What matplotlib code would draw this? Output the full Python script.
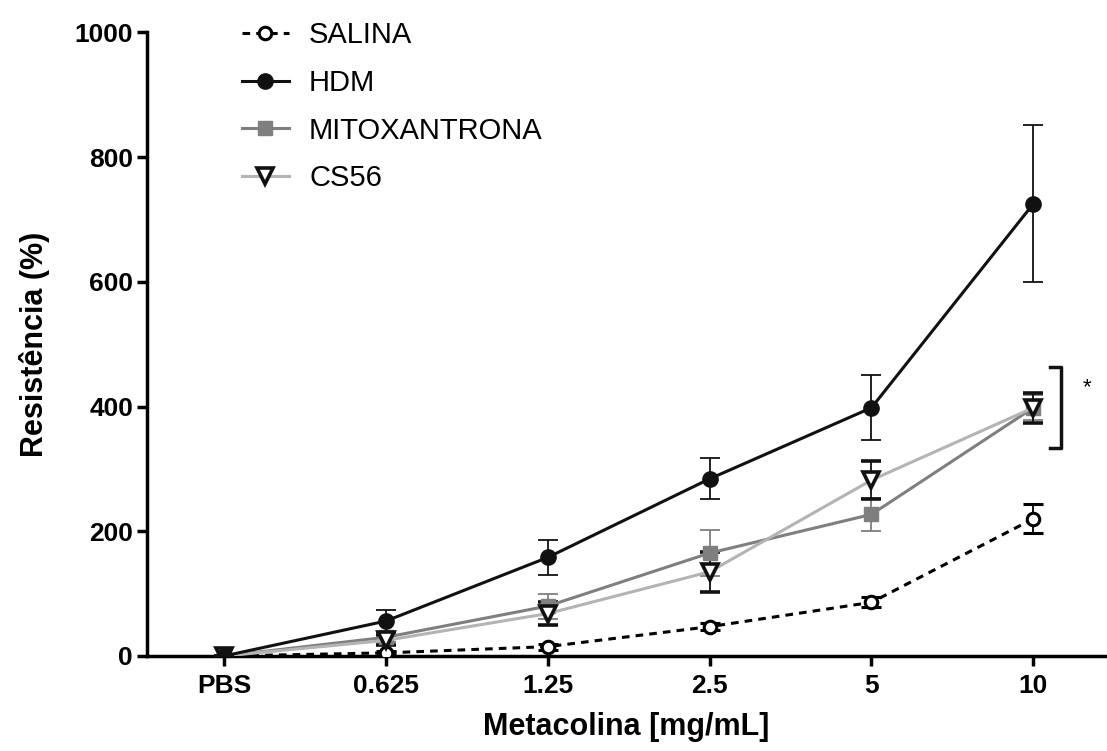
import matplotlib.pyplot as plt
import numpy as np

plt.rcParams['font.family'] = ['Liberation Sans', 'DejaVu Sans']

doses = ['PBS', '0.625', '1.25', '2.5', '5', '10']

salina = [0, 5, 15, 47, 86, 220]
salina_err = [0, 3, 5, 6, 8, 23]
hdm = [0, 56, 158, 284, 398, 725]
hdm_err = [0, 17, 28, 33, 52, 126]
mitox = [0, 30, 80, 165, 227, 398]
mitox_err = [0, 8, 20, 37, 27, 20]
cs56 = [0, 25, 68, 135, 282, 398]
cs56_err = [0, 8, 18, 32, 30, 24]

x = np.arange(len(doses))

fig = plt.figure(figsize=(11.07, 7.51), dpi=100)
ax = fig.add_axes([0.1328, 0.1265, 0.865, 0.8305])

lw = 2.2
ax.errorbar(x, salina, yerr=salina_err, color='black', ls=(0, (2.5, 2)), lw=lw,
            marker='o', ms=9, mfc='white', mec='black', mew=2.2,
            ecolor='black', elinewidth=1.3, capsize=7, capthick=1.3,
            label='SALINA', zorder=3)
ax.errorbar(x, hdm, yerr=hdm_err, color='#111111', lw=lw,
            marker='o', ms=11, mfc='#111111', mec='#111111',
            ecolor='#111111', elinewidth=1.3, capsize=7, capthick=1.3,
            label='HDM', zorder=4)
ax.errorbar(x, mitox, yerr=mitox_err, color='#7f7f7f', lw=lw,
            marker='s', ms=10, mfc='#7f7f7f', mec='#7f7f7f',
            ecolor='#7f7f7f', elinewidth=1.3, capsize=7, capthick=1.3,
            label='MITOXANTRONA', zorder=3)
ax.errorbar(x, cs56, yerr=cs56_err, color='#b4b4b4', lw=lw,
            marker='v', ms=11, mfc='white', mec='#111111', mew=2.6,
            ecolor='#111111', elinewidth=1.3, capsize=7, capthick=1.3,
            label='CS56', zorder=3)

# significance bracket next to the last dose
ax.plot([5.1, 5.17, 5.17, 5.1], [464, 464, 334, 334], color='#111111', lw=2.5,
        clip_on=False)
ax.text(5.33, 430, '*', fontsize=16, ha='center', va='center')

ax.set_xlim(-0.475, 5.44)
ax.set_ylim(0, 1000)
ax.set_xticks(x)
ax.set_xticklabels(doses)
ax.set_yticks([0, 200, 400, 600, 800, 1000])

for s in ['top', 'right']:
    ax.spines[s].set_visible(False)
for s in ['left', 'bottom']:
    ax.spines[s].set_linewidth(2.5)
ax.tick_params(axis='y', width=2.5, length=7, labelsize=19, pad=3)
ax.tick_params(axis='x', width=2.5, length=7, labelsize=19, pad=6)
for lab in ax.get_xticklabels() + ax.get_yticklabels():
    lab.set_fontweight('bold')

ax.set_xlabel('Metacolina [mg/mL]', fontsize=22, fontweight='bold', labelpad=10)
ax.set_ylabel('Resistência (%)', fontsize=22, fontweight='bold', labelpad=18)

handles, labels = ax.get_legend_handles_labels()
handles = [h[0] for h in handles]
ax.legend(handles, labels, loc='upper left',
          bbox_to_anchor=(242 / 1107, 1 - 21 / 751), bbox_transform=fig.transFigure,
          frameon=False, fontsize=21, handlelength=1.6, labelspacing=0.68,
          handletextpad=0.7, borderpad=0, borderaxespad=0)

fig.savefig('out.png', dpi=100)
